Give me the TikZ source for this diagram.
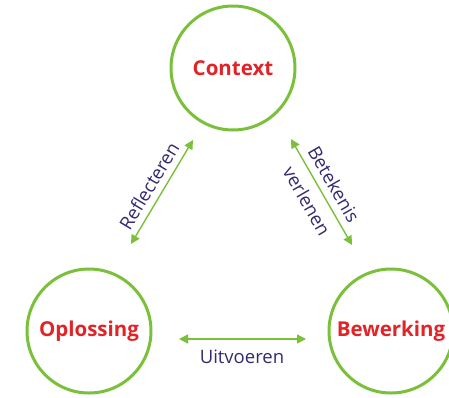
\documentclass[tikz,border=0pt]{standalone}
\usepackage{fontspec}
\setmainfont{Open Sans}
\usetikzlibrary{arrows.meta}
\definecolor{kgreen}{RGB}{122,192,58}
\definecolor{kred}{RGB}{226,35,40}
\definecolor{knavy}{RGB}{52,42,112}
\begin{document}
\begin{tikzpicture}[x=1pt, y=-1pt,
		fase/.style={circle, draw=kgreen, line width=3pt, minimum size=124pt, inner sep=0pt, text=kred, font=\fontsize{20.5}{24}\selectfont\bfseries},
		pijl/.style={draw=kgreen, line width=1.4pt, {Triangle[length=9pt,width=9pt]}-{Triangle[length=9pt,width=9pt]}},
		pijltekst/.style={text=knavy, font=\fontsize{18.5}{21}\selectfont, inner sep=1pt}]

	\useasboundingbox (0,0) rectangle (449,397);

	\node[fase] (ctx) at (233,68) {Context};
	\node[fase] (opl) at (89,331) {Oplossing};
	\node[fase] (bew) at (391,331) {Bewerking};

	\coordinate (r1) at (193,140);
	\coordinate (r2) at (131,244);
	\coordinate (b1) at (291,139);
	\coordinate (b2) at (352,245);
	\coordinate (u1) at (179,339);
	\coordinate (u2) at (306,339);

	\draw[pijl] (r1) -- (r2);
	\draw[pijl] (b1) -- (b2);
	\draw[pijl] (u1) -- (u2);

	% Labels bij de pijlen
	\node[pijltekst, rotate=59] (lref) at (149,186) {Reflecteren};
	\node[pijltekst, rotate=-60] (lbet) at (334,184) {Betekenis};
	\node[pijltekst, rotate=-60] (lver) at (307,201) {verlenen};
	\node[pijltekst] (luit) at (242,357) {Uitvoeren};

\end{tikzpicture}
\end{document}
